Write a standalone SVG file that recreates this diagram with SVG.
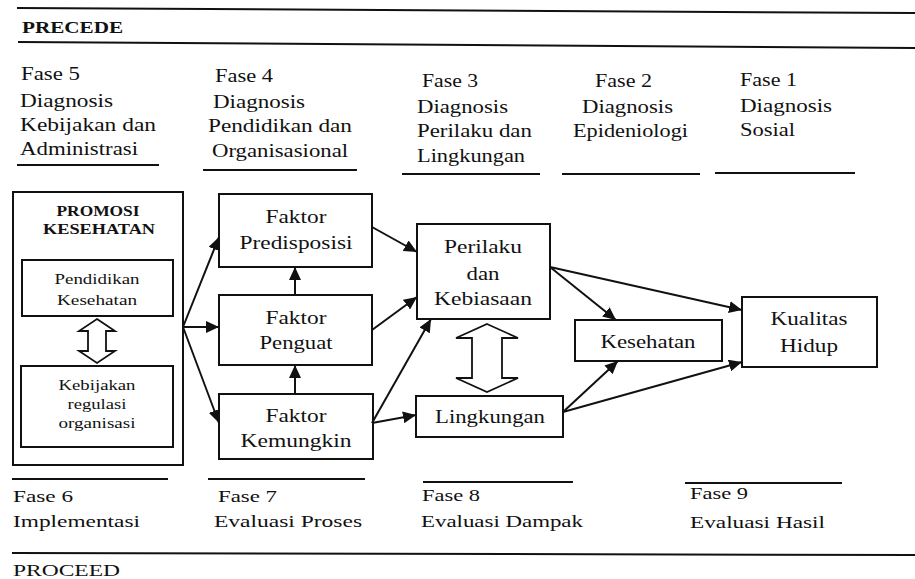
<svg xmlns="http://www.w3.org/2000/svg" width="915" height="579" viewBox="0 0 915 579">
<style>
text{font-family:"Liberation Serif","Times New Roman","DejaVu Serif",serif;fill:#111;}
.h{font-size:18px;}
.b{font-size:16px;}
.n{font-size:18px;text-anchor:middle;}
.s{font-size:14px;text-anchor:middle;}
.t{font-size:15px;font-weight:bold;text-anchor:middle;}
.rule{stroke:#111;stroke-width:2;fill:none;}
.box{fill:#fff;stroke:#111;stroke-width:2;}
.dbl{fill:#fff;stroke:#111;stroke-width:1.8;stroke-linejoin:miter;}
.c{stroke:#111;stroke-width:2;fill:none;marker-end:url(#ah);}
</style>
<defs>
<marker id="ah" markerUnits="userSpaceOnUse" markerWidth="14" markerHeight="12" refX="13" refY="6" orient="auto">
<path d="M0,0 L13,6 L0,12 Z" fill="#111"/>
</marker>
</defs>
<rect width="915" height="579" fill="#fff"/>

<g id="header-precede">
<line class="rule" x1="17" y1="8" x2="915" y2="13"/>
<line class="rule" x1="18" y1="42" x2="915" y2="48"/>
<text transform="matrix(1.31,0,0,1,22,33)" style="font-size:16px;font-weight:bold" textLength="77.1" lengthAdjust="spacingAndGlyphs">PRECEDE</text>
</g>

<g id="fase5">
<text class="h" transform="matrix(1.28,0,0,1,21,80)" textLength="46.1" lengthAdjust="spacingAndGlyphs">Fase 5</text>
<text class="h" transform="matrix(1.28,0,0,1,20,107)" textLength="72.7" lengthAdjust="spacingAndGlyphs">Diagnosis</text>
<text class="h" transform="matrix(1.28,0,0,1,20,131)" textLength="106.3" lengthAdjust="spacingAndGlyphs">Kebijakan dan</text>
<text class="h" transform="matrix(1.28,0,0,1,20,155)" textLength="92.2" lengthAdjust="spacingAndGlyphs">Administrasi</text>
<line class="rule" x1="17" y1="165" x2="159" y2="165"/>
</g>
<g id="fase4">
<text class="h" transform="matrix(1.28,0,0,1,215,82)" textLength="45.3" lengthAdjust="spacingAndGlyphs">Fase 4</text>
<text class="h" transform="matrix(1.28,0,0,1,213,108)" textLength="71.9" lengthAdjust="spacingAndGlyphs">Diagnosis</text>
<text class="h" transform="matrix(1.28,0,0,1,208,132)" textLength="112.5" lengthAdjust="spacingAndGlyphs">Pendidikan dan</text>
<text class="h" transform="matrix(1.28,0,0,1,212,157)" textLength="106.3" lengthAdjust="spacingAndGlyphs">Organisasional</text>
<line class="rule" x1="203" y1="170" x2="357" y2="170"/>
</g>
<g id="fase3">
<text class="h" transform="matrix(1.28,0,0,1,422,87)" textLength="43.8" lengthAdjust="spacingAndGlyphs">Fase 3</text>
<text class="h" transform="matrix(1.28,0,0,1,417,113)" textLength="71.1" lengthAdjust="spacingAndGlyphs">Diagnosis</text>
<text class="h" transform="matrix(1.28,0,0,1,417,137)" textLength="89.8" lengthAdjust="spacingAndGlyphs">Perilaku dan</text>
<text class="h" transform="matrix(1.28,0,0,1,417,162)" textLength="84.4" lengthAdjust="spacingAndGlyphs">Lingkungan</text>
<line class="rule" x1="402" y1="174" x2="540" y2="174"/>
</g>
<g id="fase2">
<text class="h" transform="matrix(1.28,0,0,1,595,87)" textLength="44.5" lengthAdjust="spacingAndGlyphs">Fase 2</text>
<text class="h" transform="matrix(1.28,0,0,1,582,113)" textLength="71.1" lengthAdjust="spacingAndGlyphs">Diagnosis</text>
<text class="h" transform="matrix(1.28,0,0,1,573,137)" textLength="89.8" lengthAdjust="spacingAndGlyphs">Epideniologi</text>
<line class="rule" x1="562" y1="174" x2="700" y2="174"/>
</g>
<g id="fase1">
<text class="h" transform="matrix(1.28,0,0,1,740,86)" textLength="44.5" lengthAdjust="spacingAndGlyphs">Fase 1</text>
<text class="h" transform="matrix(1.28,0,0,1,740,112)" textLength="71.9" lengthAdjust="spacingAndGlyphs">Diagnosis</text>
<text class="h" transform="matrix(1.28,0,0,1,740,136)" textLength="43" lengthAdjust="spacingAndGlyphs">Sosial</text>
<line class="rule" x1="715" y1="173" x2="855" y2="173"/>
</g>

<g id="promosi-kesehatan">
<rect class="box" x="13" y="192" width="170" height="273"/>
<text class="t" transform="matrix(1.16,0,0,1,98,216)" textLength="71.6" lengthAdjust="spacingAndGlyphs">PROMOSI</text>
<text class="t" transform="matrix(1.16,0,0,1,99,234)" textLength="96.6" lengthAdjust="spacingAndGlyphs">KESEHATAN</text>
</g>
<g id="pendidikan-kesehatan">
<rect class="box" x="22" y="260" width="151" height="56"/>
<text class="s" transform="matrix(1.35,0,0,1,97,284)" textLength="63" lengthAdjust="spacingAndGlyphs">Pendidikan</text>
<text class="s" transform="matrix(1.35,0,0,1,97,305)" textLength="59.3" lengthAdjust="spacingAndGlyphs">Kesehatan</text>
</g>
<g id="kebijakan-regulasi">
<rect class="box" x="21" y="366" width="152" height="81"/>
<text class="s" transform="matrix(1.35,0,0,1,97,390)" textLength="57" lengthAdjust="spacingAndGlyphs">Kebijakan</text>
<text class="s" transform="matrix(1.35,0,0,1,97,409)" textLength="43.7" lengthAdjust="spacingAndGlyphs">regulasi</text>
<text class="s" transform="matrix(1.35,0,0,1,97,428)" textLength="57" lengthAdjust="spacingAndGlyphs">organisasi</text>
</g>
<g id="faktor-predisposisi">
<rect class="box" x="219" y="194" width="153" height="73"/>
<text class="n" transform="matrix(1.3,0,0,1,296,223)" textLength="46.9" lengthAdjust="spacingAndGlyphs">Faktor</text>
<text class="n" transform="matrix(1.3,0,0,1,296,249)" textLength="86.9" lengthAdjust="spacingAndGlyphs">Predisposisi</text>
</g>
<g id="faktor-penguat">
<rect class="box" x="219" y="295" width="153" height="70"/>
<text class="n" transform="matrix(1.3,0,0,1,296,324)" textLength="46.9" lengthAdjust="spacingAndGlyphs">Faktor</text>
<text class="n" transform="matrix(1.3,0,0,1,296,349)" textLength="56.2" lengthAdjust="spacingAndGlyphs">Penguat</text>
</g>
<g id="faktor-kemungkin">
<rect class="box" x="219" y="394" width="154" height="65"/>
<text class="n" transform="matrix(1.3,0,0,1,296,422)" textLength="46.9" lengthAdjust="spacingAndGlyphs">Faktor</text>
<text class="n" transform="matrix(1.3,0,0,1,296,447)" textLength="85.4" lengthAdjust="spacingAndGlyphs">Kemungkin</text>
</g>
<g id="perilaku">
<rect class="box" x="417" y="224" width="133" height="95"/>
<text class="n" transform="matrix(1.3,0,0,1,483,253)" textLength="60" lengthAdjust="spacingAndGlyphs">Perilaku</text>
<text class="n" transform="matrix(1.3,0,0,1,483,280)" textLength="25.4" lengthAdjust="spacingAndGlyphs">dan</text>
<text class="n" transform="matrix(1.3,0,0,1,483,305)" textLength="75.4" lengthAdjust="spacingAndGlyphs">Kebiasaan</text>
</g>
<g id="lingkungan">
<rect class="box" x="416" y="396" width="147" height="41"/>
<text class="n" transform="matrix(1.3,0,0,1,490,423)" textLength="84.6" lengthAdjust="spacingAndGlyphs">Lingkungan</text>
</g>
<g id="kesehatan">
<rect class="box" x="575" y="320" width="147" height="41"/>
<text class="n" transform="matrix(1.3,0,0,1,648,348)" textLength="73.1" lengthAdjust="spacingAndGlyphs">Kesehatan</text>
</g>
<g id="kualitas-hidup">
<rect class="box" x="742" y="297" width="135" height="70"/>
<text class="n" transform="matrix(1.3,0,0,1,809,325)" textLength="59.2" lengthAdjust="spacingAndGlyphs">Kualitas</text>
<text class="n" transform="matrix(1.3,0,0,1,809,352)" textLength="44.6" lengthAdjust="spacingAndGlyphs">Hidup</text>
</g>

<g id="connectors">
<polygon class="dbl" points="97,319 115,331 106,331 106,351 115,351 97,363 79,351 88,351 88,331 79,331"/>
<polygon class="dbl" points="487,324 518,338 502,338 502,378 518,378 487,392 456,378 472,378 472,338 456,338"/>
<line class="c" x1="183" y1="327" x2="219" y2="237"/>
<line class="c" x1="183" y1="327" x2="219" y2="327"/>
<line class="c" x1="183" y1="327" x2="219" y2="423"/>
<line class="c" x1="295" y1="295" x2="295" y2="267"/>
<line class="c" x1="295" y1="394" x2="295" y2="365"/>
<line class="c" x1="372" y1="227" x2="417" y2="252"/>
<line class="c" x1="372" y1="330" x2="417" y2="297"/>
<line class="c" x1="372" y1="423" x2="431" y2="319"/>
<line class="c" x1="372" y1="423" x2="416" y2="415"/>
<line class="c" x1="550" y1="267" x2="616" y2="320"/>
<line class="c" x1="550" y1="267" x2="742" y2="310"/>
<line class="c" x1="563" y1="412" x2="618" y2="361"/>
<line class="c" x1="563" y1="412" x2="742" y2="362"/>
</g>

<g id="fase6">
<line class="rule" x1="12" y1="479" x2="168" y2="479"/>
<text class="b" transform="matrix(1.45,0,0,1,13,502)" textLength="41.4" lengthAdjust="spacingAndGlyphs">Fase 6</text>
<text class="b" transform="matrix(1.45,0,0,1,13,527)" textLength="87.6" lengthAdjust="spacingAndGlyphs">Implementasi</text>
</g>
<g id="fase7">
<line class="rule" x1="208" y1="479" x2="365" y2="479"/>
<text class="b" transform="matrix(1.45,0,0,1,218,502)" textLength="40.7" lengthAdjust="spacingAndGlyphs">Fase 7</text>
<text class="b" transform="matrix(1.45,0,0,1,214,527)" textLength="102.1" lengthAdjust="spacingAndGlyphs">Evaluasi Proses</text>
</g>
<g id="fase8">
<line class="rule" x1="423" y1="482" x2="573" y2="482"/>
<text class="b" transform="matrix(1.45,0,0,1,422,501)" textLength="40" lengthAdjust="spacingAndGlyphs">Fase 8</text>
<text class="b" transform="matrix(1.45,0,0,1,421,527)" textLength="111.7" lengthAdjust="spacingAndGlyphs">Evaluasi Dampak</text>
</g>
<g id="fase9">
<line class="rule" x1="685" y1="483" x2="842" y2="483"/>
<text class="b" transform="matrix(1.45,0,0,1,690,499)" textLength="40" lengthAdjust="spacingAndGlyphs">Fase 9</text>
<text class="b" transform="matrix(1.45,0,0,1,690,528)" textLength="93.1" lengthAdjust="spacingAndGlyphs">Evaluasi Hasil</text>
</g>
<g id="footer-proceed">
<line class="rule" x1="12" y1="553" x2="915" y2="555"/>
<text transform="matrix(1.47,0,0,1,13,576)" style="font-size:16px" textLength="72.8" lengthAdjust="spacingAndGlyphs">PROCEED</text>
</g>
</svg>
